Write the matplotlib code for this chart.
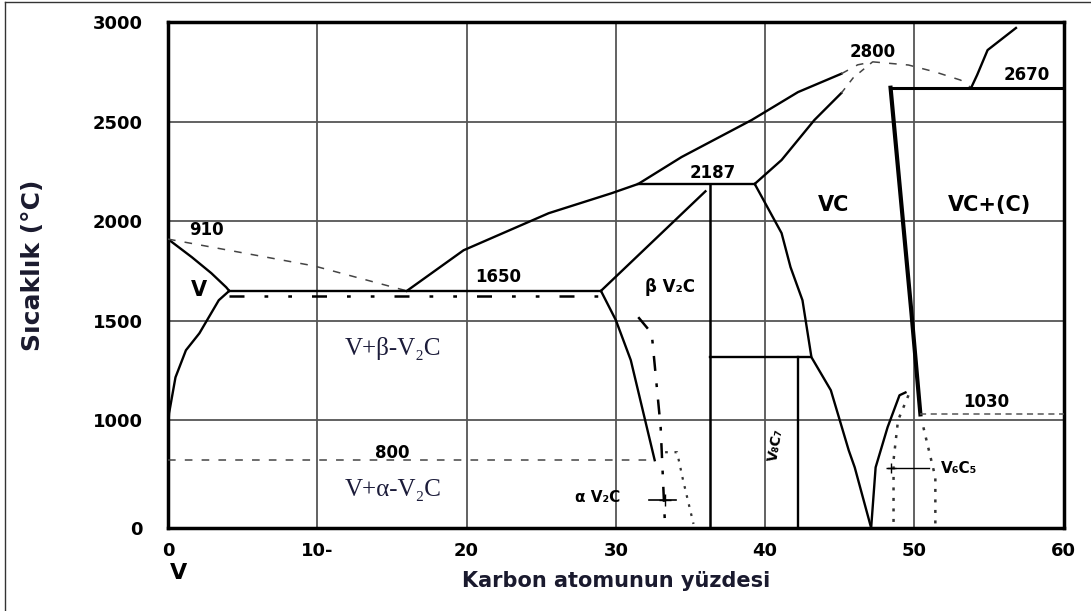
import matplotlib
matplotlib.use("Agg")
import matplotlib.pyplot as plt
from matplotlib.lines import Line2D

# V-C faz diyagramı (karbon atom yüzdesi, sıcaklık °C)
x_ticks = [0, 10, 20, 30, 40, 50, 60]
x_tick_labels = ["0", "10-", "20", "30", "40", "50", "60"]
y_ticks = [460, 1000, 1500, 2000, 2500, 3000]
y_tick_labels = ["0", "1000", "1500", "2000", "2500", "3000"]

# sınır eğrileri: (x listesi, T listesi)
v_solidus_x = [0, 1.6, 2.9, 3.9, 4.1]
v_solidus_t = [1910, 1819, 1739, 1668, 1650]
v_solvus_x = [4.1, 3.4, 2.1, 1.2, 0.5, 0.07, 0]
v_solvus_t = [1650, 1603, 1437, 1352, 1216, 1035, 950]
liq_left_x = [0, 9.8, 16]
liq_left_t = [1910, 1775, 1650]
liq_right_x = [16, 19.8, 25.5, 29.7, 31.5, 34.4, 39.1, 42.2, 45.1]
liq_right_t = [1650, 1854, 2040, 2140, 2187, 2322, 2508, 2648, 2740]
liq_top_x = [45.1, 46.2, 47.2, 49.6, 51.4, 53.1, 53.8]
liq_top_t = [2740, 2785, 2800, 2784, 2749, 2708, 2670]
graphite_x = [53.8, 54.2, 54.9, 56.8]
graphite_t = [2670, 2734, 2859, 2970]
vc_left_up_x = [39.3, 41.1, 43.3, 45.1]
vc_left_up_t = [2187, 2307, 2508, 2643]
vc_left_dash_x = [45.1, 45.9, 47.2]
vc_left_dash_t = [2643, 2720, 2800]
vc_left_low_x = [39.3, 41.1, 41.7, 42.5, 43.1, 44.4, 45.6, 46.0, 47.1]
vc_left_low_t = [2187, 1940, 1769, 1603, 1317, 1151, 849, 764, 460]
vc_right_x = [48.4, 49.8, 50.4]
vc_right_t = [2670, 1540, 1030]
v6c5_solid_x = [47.1, 47.4, 48.2, 49.0, 49.4]
v6c5_solid_t = [460, 764, 965, 1126, 1140]
v6c5_dot_l_x = [49.6, 48.9, 48.6, 48.6]
v6c5_dot_l_t = [1126, 1000, 800, 470]
v6c5_dot_r_x = [50.6, 51.4, 51.4]
v6c5_dot_r_t = [965, 714, 470]
a_v2c_x = [29.0, 30.0, 31.0, 32.6]
a_v2c_t = [1650, 1503, 1302, 800]
a_v2c_dd_x = [31.5, 32.4, 33.0, 33.3]
a_v2c_dd_t = [1518, 1437, 965, 460]
a_v2c_dot_x = [33.3, 34.1, 34.5, 35.2]
a_v2c_dot_t = [840, 840, 700, 480]
b_v2c_x = [29.0, 36.0]
b_v2c_t = [1650, 2150]

# izotermler
t_eutectic = 1650
t_peritectic = 2187
t_max = 2800
t_graphite = 2670
t_vc = 1030
t_eutectoid = 800
t_v8c7 = 1317
t_910 = 910

fig = plt.figure(figsize=(10.91, 6.11), dpi=100)
ax = fig.add_axes([0.154, 0.136, 0.821, 0.828])
ax.set_xlim(0, 60)
ax.set_ylim(460, 3000)

for gx in [10, 20, 30, 40, 50]:
    ax.axvline(gx, color="#555555", lw=1.3, zorder=1)
for gy in [1000, 1500, 2000, 2500]:
    ax.axhline(gy, color="#555555", lw=1.3, zorder=1)

k = dict(color="black", lw=1.7, zorder=3)
ax.plot(v_solidus_x, v_solidus_t, **k)
ax.plot(v_solvus_x, v_solvus_t, **k)
ax.plot(liq_left_x, liq_left_t, color="#444444", lw=1.1, ls=(0, (5, 6)), zorder=3)
ax.plot(liq_right_x, liq_right_t, **k)
ax.plot(liq_top_x, liq_top_t, color="#444444", lw=1.1, ls=(0, (5, 6)), zorder=3)
ax.plot(graphite_x, graphite_t, **k)
ax.plot(vc_left_up_x, vc_left_up_t, **k)
ax.plot(vc_left_dash_x, vc_left_dash_t, color="#444444", lw=1.1, ls=(0, (4, 5)), zorder=3)
ax.plot(vc_left_low_x, vc_left_low_t, **k)
ax.plot(vc_right_x, vc_right_t, color="black", lw=3, zorder=3)
ax.plot(v6c5_solid_x, v6c5_solid_t, **k)
ax.plot(v6c5_dot_l_x, v6c5_dot_l_t, color="#333333", lw=1.8, ls=(0, (1.2, 3)), zorder=3)
ax.plot(v6c5_dot_r_x, v6c5_dot_r_t, color="#333333", lw=1.8, ls=(0, (1.2, 3)), zorder=3)
ax.plot(a_v2c_x, a_v2c_t, **k)
ax.plot(a_v2c_dd_x, a_v2c_dd_t, color="black", lw=1.8, ls=(0, (6, 5, 1.5, 5)), zorder=3)
ax.plot(a_v2c_dot_x, a_v2c_dot_t, color="#333333", lw=1.6, ls=(0, (1.2, 3)), zorder=3)
ax.plot(b_v2c_x, b_v2c_t, **k)

# yatay çizgiler
ax.plot([4.1, 29.0], [t_eutectic, t_eutectic], **k)
ax.plot([4.1, 29.0], [t_eutectic - 28, t_eutectic - 28], color="black", lw=1.8,
        ls=(0, (6, 8, 1.5, 8, 1.5, 8)), zorder=3)
ax.plot([31.5, 39.3], [t_peritectic, t_peritectic], **k)
ax.plot([48.4, 60], [t_graphite, t_graphite], color="black", lw=2.2, zorder=3)
ax.plot([50.4, 60], [t_vc, t_vc], color="#555555", lw=1.1, ls=(0, (4, 3)), zorder=3)
ax.plot([0, 32.2], [t_eutectoid, t_eutectoid], color="#444444", lw=1.1, ls=(0, (5, 6)), zorder=3)
ax.plot([36.3, 36.3], [t_peritectic, 460], color="black", lw=1.8, zorder=3)
ax.plot([36.3, 43.1], [t_v8c7, t_v8c7], **k)
ax.plot([42.2, 42.2], [t_v8c7, 460], **k)

# işaret çizgileri
ax.plot([32.2, 34.0], [600, 600], color="black", lw=1.2, zorder=3)
ax.plot([33.3], [600], marker="+", color="black", ms=8, zorder=3)
ax.plot([48.2, 51.0], [759, 759], color="black", lw=1.0, zorder=3)
ax.plot([48.4], [759], marker="+", color="black", ms=7, zorder=3)

for s in ax.spines.values():
    s.set_linewidth(2.5)

ax.set_xticks(x_ticks)
ax.set_xticklabels(x_tick_labels)
ax.set_yticks(y_ticks)
ax.set_yticklabels(y_tick_labels)
ax.tick_params(axis="x", length=0, labelsize=13, pad=10)
ax.tick_params(axis="y", length=0, labelsize=13, pad=18)
for lbl in ax.get_xticklabels() + ax.get_yticklabels():
    lbl.set_fontweight("heavy")

b = dict(fontsize=12, fontweight="bold", ha="center", va="center", zorder=5)
ax.text(2.6, 1955, str(t_910), **b)
ax.text(2.1, 1653, "V", fontsize=15, fontweight="bold", ha="center", va="center")
ax.text(22.1, 1719, str(t_eutectic), **b)
ax.text(36.5, 2241, str(t_peritectic), **b)
ax.text(47.2, 2849, str(t_max), **b)
ax.text(57.5, 2734, str(t_graphite), **b)
ax.text(54.8, 1090, str(t_vc), **b)
ax.text(15.0, 834, str(t_eutectoid), **b)
ax.text(44.6, 2080, "VC", fontsize=15, fontweight="bold", ha="center", va="center")
ax.text(55.0, 2080, "VC+(C)", fontsize=15, fontweight="bold", ha="center", va="center")
ax.text(33.6, 1668, "β V₂C", **b)
ax.text(28.8, 613, "α V₂C", fontsize=11, fontweight="bold", ha="center", va="center")
ax.text(51.8, 759, "V₆C₅", fontsize=11, fontweight="bold", ha="left", va="center")
ax.text(40.7, 874, "V₈C₇", fontsize=10, fontweight="bold", ha="center", va="center",
        rotation=80)

serif = dict(fontsize=18, family=["Liberation Serif", "DejaVu Serif"], color="#1c1c3a",
             ha="center", va="center")
ax.text(15.1, 1362, "V+β-V₂C", **serif)
ax.text(15.1, 648, "V+α-V₂C", **serif)

ax.text(0.7, -0.09, "V", transform=ax.get_xaxis_transform(), fontsize=16,
        fontweight="heavy", ha="center", va="center")
ax.set_xlabel("Karbon atomunun yüzdesi", fontsize=15, fontweight="heavy",
              color="#1a1a2e")
ax.xaxis.set_label_coords(0.5, -0.085)
ax.set_ylabel("Sıcaklık (°C)", fontsize=18, fontweight="bold", color="#1a1a2e")
ax.yaxis.set_label_coords(-0.137, 0.52)

# dış çerçeve
fig.add_artist(Line2D([0.0046, 0.0046], [0, 0.9967], color="#333333", lw=1))
fig.add_artist(Line2D([0.0046, 1], [0.9967, 0.9967], color="#333333", lw=1))

fig.savefig("out.png", dpi=100)
